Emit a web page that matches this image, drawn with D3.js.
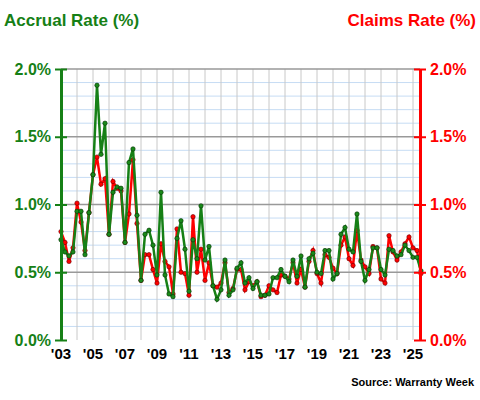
<!DOCTYPE html><html><head><script src="https://cdn.jsdelivr.net/npm/d3@7"></script>
<style>body{margin:0;background:#fff}text{font-family:Arial,"Liberation Sans",sans-serif;font-weight:bold}</style></head><body>
<svg id="c" width="480" height="400"></svg>
<script>
const startYear=2003;
const accrual=[0.74,0.65,0.62,0.65,0.95,0.95,0.63,0.94,1.22,1.88,1.37,1.60,0.78,1.09,1.13,1.12,0.72,1.31,1.41,0.92,0.44,0.78,0.81,0.70,0.48,1.09,0.48,0.34,0.32,0.75,0.88,0.67,0.36,0.74,0.60,0.99,0.59,0.69,0.40,0.30,0.37,0.59,0.33,0.37,0.53,0.57,0.42,0.46,0.38,0.43,0.33,0.33,0.34,0.46,0.46,0.52,0.47,0.43,0.59,0.47,0.62,0.39,0.60,0.64,0.50,0.49,0.66,0.66,0.45,0.49,0.78,0.83,0.67,0.65,0.93,0.58,0.44,0.52,0.68,0.68,0.52,0.48,0.67,0.66,0.62,0.63,0.70,0.66,0.61,0.61,0.51];
const claims=[0.80,0.72,0.58,0.68,1.01,0.87,0.66,0.94,1.22,1.35,1.15,1.19,0.78,1.17,1.12,1.10,0.72,0.93,1.33,0.86,0.44,0.63,0.63,0.52,0.42,0.71,0.58,0.54,0.34,0.82,0.50,0.49,0.33,0.91,0.50,0.67,0.44,0.57,0.40,0.39,0.42,0.57,0.35,0.38,0.52,0.52,0.37,0.43,0.40,0.43,0.32,0.33,0.40,0.37,0.35,0.48,0.47,0.45,0.57,0.42,0.52,0.39,0.58,0.66,0.49,0.42,0.63,0.61,0.53,0.49,0.70,0.76,0.60,0.55,0.81,0.59,0.54,0.49,0.69,0.68,0.45,0.42,0.77,0.65,0.59,0.65,0.71,0.76,0.68,0.66,0.49];
const yTicks=[0,0.5,1,1.5,2];
const xLabels=["'03","'05","'07","'09","'11","'13","'15","'17","'19","'21","'23","'25"];
const svg=d3.select("#c");
const L=61,R=420,T=69,B=340;
const x=d3.scaleLinear().domain([2003,2025.5]).range([L,L+22.5*16]);
const y=d3.scaleLinear().domain([0,2]).range([B,T]);
const t=i=>startYear+i/4;
// minor horizontal
svg.append("g").selectAll("line").data(d3.range(0,2.01,0.1).map(v=>+v.toFixed(1)).filter(v=>Math.round(v*10)%5)).join("line")
 .attr("x1",L).attr("x2",R).attr("y1",d=>y(d)).attr("y2",d=>y(d)).attr("stroke","#c6dcf4").attr("stroke-width",1);
// vertical yearly
svg.append("g").selectAll("line").data(d3.range(2004,2026)).join("line")
 .attr("x1",d=>x(d)).attr("x2",d=>x(d)).attr("y1",T).attr("y2",B).attr("stroke","#c8c8c8").attr("stroke-width",1);
// major horizontal
svg.append("g").selectAll("line").data(yTicks.slice(1)).join("line")
 .attr("x1",L).attr("x2",R).attr("y1",d=>y(d)).attr("y2",d=>y(d)).attr("stroke","#999").attr("stroke-width",1.5);
const line=d3.line().x((d,i)=>x(t(i))).y(d=>y(d));
svg.append("path").attr("d",line(claims)).attr("fill","none").attr("stroke","#f00").attr("stroke-width",2.5);
svg.append("g").selectAll("circle").data(claims).join("circle").attr("cx",(d,i)=>x(t(i))).attr("cy",d=>y(d)).attr("r",2.2).attr("fill","#f00").attr("stroke","#600").attr("stroke-width",0.6);
svg.append("path").attr("d",line(accrual)).attr("fill","none").attr("stroke","#168016").attr("stroke-width",2.5);
svg.append("g").selectAll("circle").data(accrual).join("circle").attr("cx",(d,i)=>x(t(i))).attr("cy",d=>y(d)).attr("r",2.2).attr("fill","#1a8a1a").attr("stroke","#053005").attr("stroke-width",0.6);
// left axis
const la=svg.append("g").attr("transform",`translate(${L},0)`).call(d3.axisLeft(y).tickValues(yTicks).tickFormat(d=>d.toFixed(1)+"%").tickSize(5).tickSizeOuter(0));
la.select(".domain").attr("stroke","#168016").attr("stroke-width",3);
la.selectAll(".tick line").attr("stroke","#168016").attr("stroke-width",2).attr("x2",6).attr("x1",-6);
la.selectAll("text").attr("fill","#168016").attr("font-size",16).attr("x",-10);
const ra=svg.append("g").attr("transform",`translate(${R},0)`).call(d3.axisRight(y).tickValues(yTicks).tickFormat(d=>d.toFixed(1)+"%").tickSize(5).tickSizeOuter(0));
ra.select(".domain").attr("stroke","#f00").attr("stroke-width",3);
ra.selectAll(".tick line").attr("stroke","#f00").attr("stroke-width",2).attr("x2",6).attr("x1",-6);
ra.selectAll("text").attr("fill","#f00").attr("font-size",16).attr("x",10);
// x labels
svg.append("g").selectAll("text").data(xLabels).join("text").attr("x",(d,i)=>x(2003+2*i)).attr("y",B+19).attr("text-anchor","middle").attr("font-size",15).attr("fill","#000").text(d=>d);
svg.append("text").attr("x",4).attr("y",26).attr("fill","#168016").attr("font-size",17).text("Accrual Rate (%)");
svg.append("text").attr("x",476).attr("y",26).attr("text-anchor","end").attr("fill","#f00").attr("font-size",17).text("Claims Rate (%)");
svg.append("text").attr("x",474).attr("y",386).attr("text-anchor","end").attr("fill","#000").attr("font-size",11).text("Source: Warranty Week");
</script></body></html>
